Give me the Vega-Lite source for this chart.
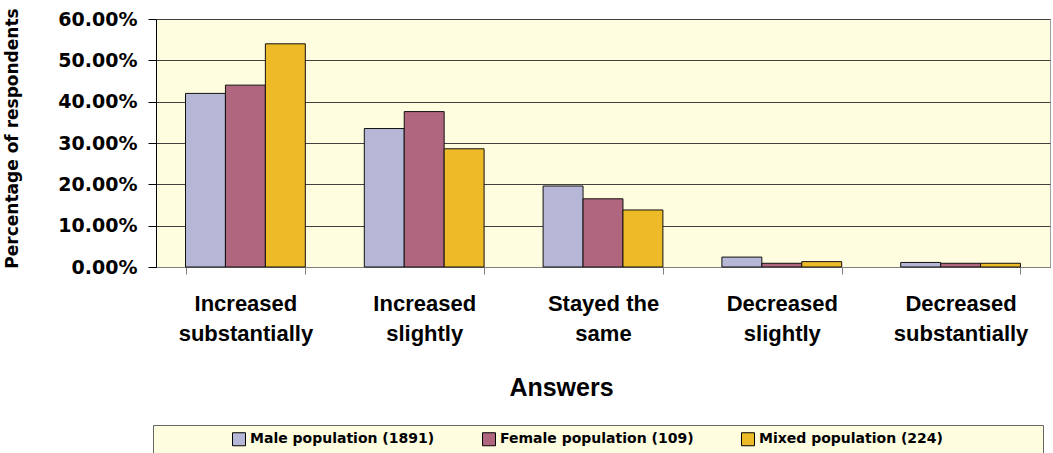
{
  "$schema": "https://vega.github.io/schema/vega-lite/v6.json",
  "width": 894,
  "height": 248,
  "autosize": {"type": "none"},
  "padding": {"left": 156, "top": 19, "right": 3, "bottom": 186},
  "background": "white",
  "data": {
    "values": [
      {"answer": "Increased substantially", "population": "Male population (1891)", "pct": 0.420},
      {"answer": "Increased substantially", "population": "Female population (109)", "pct": 0.440},
      {"answer": "Increased substantially", "population": "Mixed population  (224)", "pct": 0.540},
      {"answer": "Increased slightly", "population": "Male population (1891)", "pct": 0.335},
      {"answer": "Increased slightly", "population": "Female population (109)", "pct": 0.376},
      {"answer": "Increased slightly", "population": "Mixed population  (224)", "pct": 0.286},
      {"answer": "Stayed the same", "population": "Male population (1891)", "pct": 0.196},
      {"answer": "Stayed the same", "population": "Female population (109)", "pct": 0.165},
      {"answer": "Stayed the same", "population": "Mixed population  (224)", "pct": 0.138},
      {"answer": "Decreased slightly", "population": "Male population (1891)", "pct": 0.024},
      {"answer": "Decreased slightly", "population": "Female population (109)", "pct": 0.009},
      {"answer": "Decreased slightly", "population": "Mixed population  (224)", "pct": 0.013},
      {"answer": "Decreased substantially", "population": "Male population (1891)", "pct": 0.011},
      {"answer": "Decreased substantially", "population": "Female population (109)", "pct": 0.009},
      {"answer": "Decreased substantially", "population": "Mixed population  (224)", "pct": 0.009}
    ]
  },
  "mark": {"type": "bar", "stroke": "#111111", "strokeWidth": 1},
  "encoding": {
    "x": {
      "field": "answer",
      "type": "nominal",
      "sort": ["Increased substantially", "Increased slightly", "Stayed the same", "Decreased slightly", "Decreased substantially"],
      "scale": {"paddingInner": 0.33, "paddingOuter": 0.165},
      "title": "Answers",
      "axis": {
        "labelAngle": 0,
        "tickBand": "extent",
        "tickSize": 7,
        "tickColor": "#808080",
        "domainColor": "#808080",
        "labelFont": "Liberation Sans",
        "labelFontWeight": "bold",
        "labelFontSize": 22,
        "labelColor": "black",
        "labelLineHeight": 30,
        "labelPadding": 19,
        "labelLimit": 400,
        "labelOverlap": false,
        "labelExpr": "datum.label == 'Stayed the same' ? ['Stayed the', 'same'] : split(datum.label, ' ')",
        "titleFont": "Liberation Sans",
        "titleFontWeight": "bold",
        "titleFontSize": 25,
        "titleColor": "black",
        "titleX": 405,
        "titleY": 128,
        "titleAlign": "center",
        "titleBaseline": "alphabetic"
      }
    },
    "xOffset": {
      "field": "population",
      "type": "nominal",
      "sort": ["Male population (1891)", "Female population (109)", "Mixed population  (224)"],
      "scale": {"paddingInner": 0, "paddingOuter": 0}
    },
    "y": {
      "field": "pct",
      "type": "quantitative",
      "scale": {"domain": [0, 0.6], "nice": false},
      "title": "Percentage of respondents",
      "axis": {
        "values": [0, 0.1, 0.2, 0.3, 0.4, 0.5, 0.6],
        "format": ".2%",
        "grid": true,
        "gridColor": "#404040",
        "gridWidth": 1,
        "domainColor": "black",
        "tickColor": "black",
        "tickSize": 8,
        "labelPadding": 11,
        "labelFont": "DejaVu Sans",
        "labelFontWeight": "bold",
        "labelFontSize": 19,
        "labelColor": "black",
        "titleFont": "DejaVu Sans",
        "titleFontWeight": "bold",
        "titleFontSize": 17,
        "titleColor": "black",
        "titleAngle": 270,
        "titleX": -139,
        "titleY": 119,
        "titleAlign": "center",
        "titleBaseline": "alphabetic"
      }
    },
    "color": {
      "field": "population",
      "type": "nominal",
      "scale": {
        "domain": ["Male population (1891)", "Female population (109)", "Mixed population  (224)"],
        "range": ["#B6B6D6", "#B1667F", "#EDBB28"]
      },
      "legend": {
        "orient": "none",
        "legendX": -3,
        "legendY": 406,
        "direction": "horizontal",
        "columns": 3,
        "title": "\u200b\u00a0\u00a0\u00a0\u00a0\u00a0\u00a0\u00a0\u00a0\u00a0\u00a0\u00a0\u00a0\u00a0\u00a0\u200b",
        "titleOrient": "left",
        "titlePadding": 3,
        "titleFont": "DejaVu Sans",
        "titleFontSize": 14,
        "padding": 7,
        "fillColor": "#FFFDE0",
        "strokeColor": "#666666",
        "symbolType": "square",
        "symbolSize": 169,
        "symbolStrokeColor": "black",
        "symbolStrokeWidth": 1,
        "symbolOpacity": 1,
        "labelFont": "DejaVu Sans",
        "labelFontWeight": "bold",
        "labelFontSize": 14,
        "labelColor": "black",
        "labelOffset": 4,
        "labelLimit": 500,
        "columnPadding": 45,
        "labelExpr": "datum.label == 'Mixed population  (224)' ? datum.label + '\u00a0\u00a0\u00a0\u00a0\u00a0\u00a0\u00a0\u00a0\u00a0\u00a0\u00a0\u00a0\u00a0\u00a0\u00a0\u00a0\u00a0\u00a0\u200b' : datum.label"
      }
    }
  },
  "config": {
    "view": {"fill": "#FFFDE0", "stroke": "#a0a0a0"}
  }
}
